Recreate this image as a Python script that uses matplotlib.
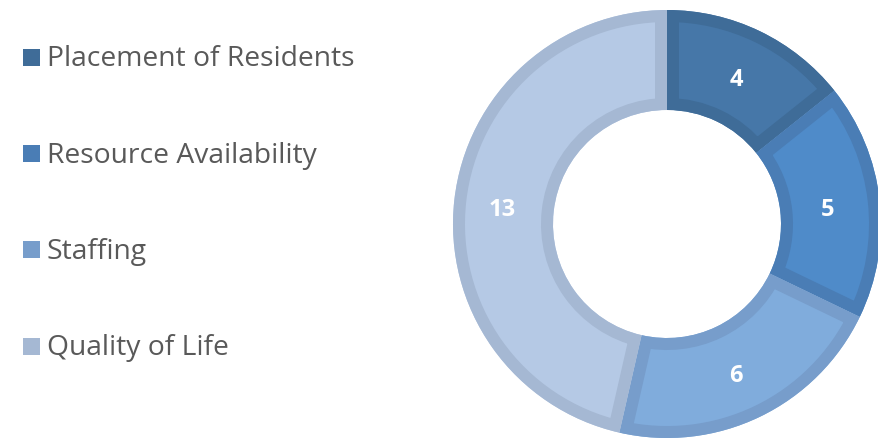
import matplotlib
matplotlib.use("Agg")
import matplotlib.pyplot as plt
from matplotlib.patches import Rectangle, Wedge

categories = ["Placement of Residents", "Resource Availability", "Staffing", "Quality of Life"]
values = [4, 5, 6, 13]
fill_colors = ["#4677A8", "#4F8BC9", "#80ACDC", "#B5C9E5"]
edge_colors = ["#3F6C98", "#4A7DB5", "#779DCB", "#A5B8D3"]

W, H = 879, 441
fig = plt.figure(figsize=(W / 100, H / 100), dpi=100)
ax = fig.add_axes([0, 0, 1, 1])

cx, cy, R = 667, H - 224, 214
width = 100
stroke_px = 12
wedges, texts = ax.pie(
    values, startangle=90, counterclock=False, center=(cx, cy), radius=R,
    colors=fill_colors, labels=[str(v) for v in values], labeldistance=(R - width / 2) / R,
    wedgeprops=dict(width=width, linewidth=0),
    textprops=dict(color="white", fontsize=17, fontweight="bold", ha="center", va="center",
                   family=["Open Sans", "DejaVu Sans"], zorder=5),
    frame=True,
)
for t in texts:
    x, y = t.get_position()
    t.set_position((x - 2, y - 4))
for w, ec in zip(wedges, edge_colors):
    stroke = Wedge(w.center, w.r, w.theta1, w.theta2, width=w.width,
                   facecolor="none", edgecolor=ec, linewidth=2 * stroke_px * 0.72,
                   joinstyle="miter", zorder=w.get_zorder() + 0.5)
    ax.add_patch(stroke)
    stroke.set_clip_path(w)
ax.set_xlim(0, W)
ax.set_ylim(0, H)
ax.set_aspect("equal")
ax.axis("off")

ys = [57, 153, 249, 346]
for cat, col, y in zip(categories, edge_colors, ys):
    ax.add_patch(Rectangle((23, H - y - 8.5), 17, 17, facecolor=col, edgecolor="none"))
    ax.text(47, H - y - 2.5, cat, fontsize=20.3, color="#595959", va="center", ha="left",
            family=["Open Sans", "DejaVu Sans"])

fig.savefig("out.png", dpi=100)
